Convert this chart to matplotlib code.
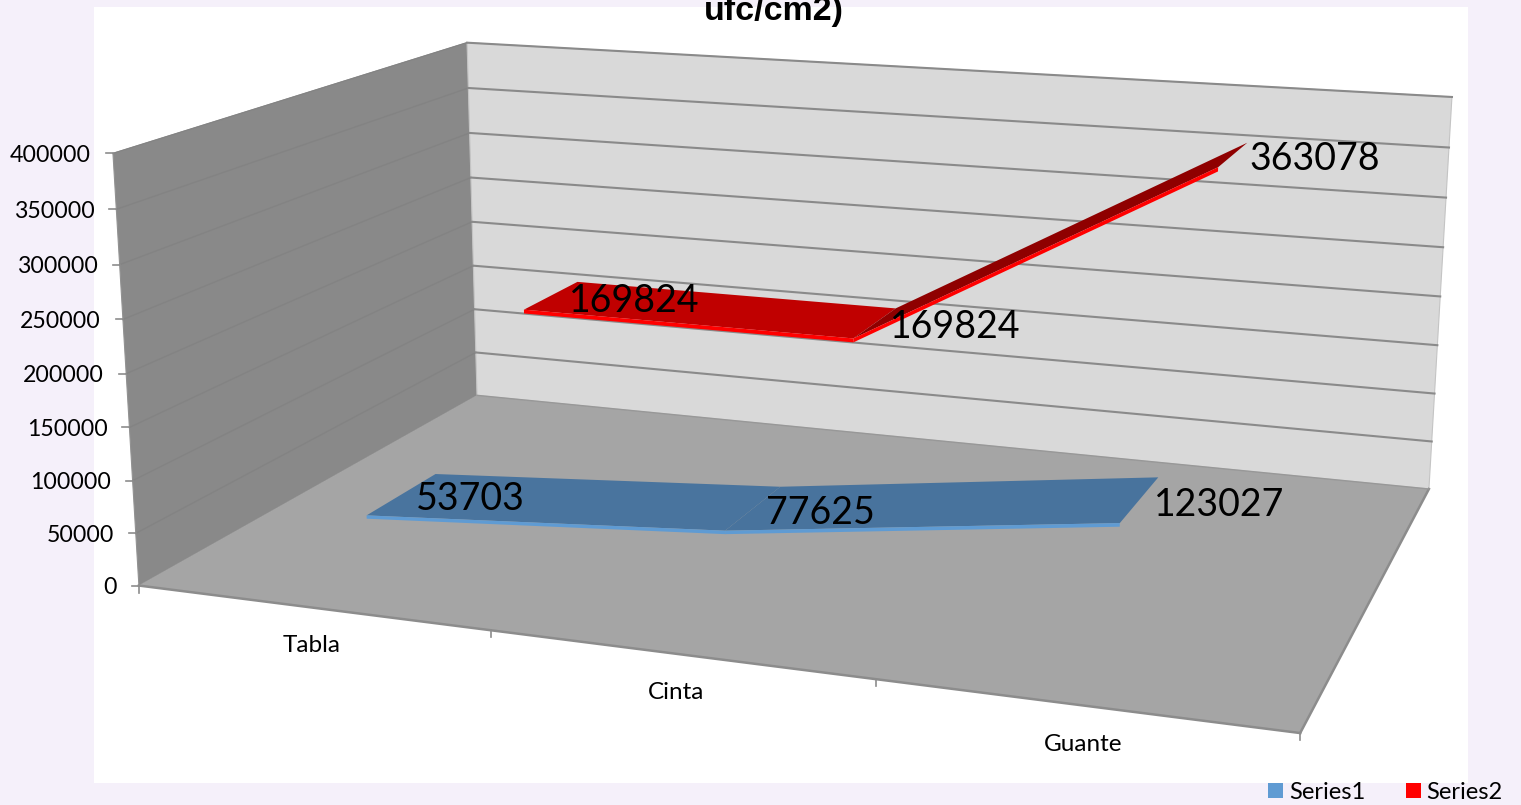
import numpy as np
import matplotlib
matplotlib.use("Agg")
from matplotlib import pyplot as plt
from matplotlib.patches import Patch, Polygon, Rectangle

categories = ["Tabla", "Cinta", "Guante"]
series1 = [53703, 77625, 123027]
series2 = [169824, 169824, 363078]
y_ticks = [0, 50000, 100000, 150000, 200000, 250000, 300000, 350000, 400000]
y_max = 400000

plt.rcParams["font.family"] = ["Lato", "DejaVu Sans"]

# box corners (category pos, depth, height) and where they land on the canvas
box_pts = np.array([
    [0, 0, 0], [0, 0, 1], [0, 1, 0], [0, 1, 1],
    [1, 1, 0], [1, 1, 1], [1, 0, 0],
], dtype=float)
canvas_pts = np.array([
    [139, 586], [113, 153], [477, 395], [467, 43],
    [1429, 489], [1452, 97], [1300, 733],
], dtype=float)


def fit_camera(box, canvas):
    rows = []
    for (x, y, z), (u, v) in zip(box, canvas / 1000):
        rows.append([x, y, z, 1, 0, 0, 0, 0, -u * x, -u * y, -u * z, -u])
        rows.append([0, 0, 0, 0, x, y, z, 1, -v * x, -v * y, -v * z, -v])
    return np.linalg.svd(np.array(rows))[2][-1].reshape(3, 4)


camera = fit_camera(box_pts, canvas_pts)


def project(x, depth, value):
    p = camera @ np.array([x, depth, value / y_max, 1.0])
    return p[:2] / p[2] * 1000


def draw_ribbon(ax, values, front, back, top_cols, side_col, thick):
    xs = [(i + 0.5) / len(values) for i in range(len(values))]
    for i in range(len(values) - 1):
        a, b = values[i], values[i + 1]
        top = [project(xs[i], front, a), project(xs[i + 1], front, b),
               project(xs[i + 1], back, b), project(xs[i], back, a)]
        ax.add_patch(Polygon(top, fc=top_cols[i], ec="none", zorder=4))
        face = [project(xs[i], front, a), project(xs[i + 1], front, b),
                project(xs[i + 1], front, b - thick), project(xs[i], front, a - thick)]
        ax.add_patch(Polygon(face, fc=side_col, ec="none", zorder=5))


fig = plt.figure(figsize=(15.21, 8.05), dpi=100, facecolor="#f5f0fa")
ax = fig.add_axes([0, 0, 1, 1])
ax.set_xlim(0, 1521)
ax.set_ylim(805, 0)
ax.axis("off")

ax.add_patch(Rectangle((94, 7), 1374, 776, fc="white", ec="none", zorder=0))

# walls and floor
edge = "#8c8c8c"
left_wall = [project(0, 0, 0), project(0, 0, y_max), project(0, 1, y_max), project(0, 1, 0)]
back_wall = [project(0, 1, 0), project(0, 1, y_max), project(1, 1, y_max), project(1, 1, 0)]
floor = [project(0, 0, 0), project(0, 1, 0), project(1, 1, 0), project(1, 0, 0)]
ax.add_patch(Polygon(left_wall, fc="#898989", ec="#929292", lw=0.8, zorder=1))
ax.add_patch(Polygon(back_wall, fc="#d9d9d9", ec="#c4c4c4", lw=0.8, zorder=1))
ax.add_patch(Polygon(floor, fc="#a5a5a5", ec="none", zorder=2))
for a, b in [(floor[0], floor[3]), (floor[3], floor[2])]:
    ax.plot([a[0], b[0]], [a[1], b[1]], color=edge, lw=1.8, zorder=3)
ax.plot([floor[1][0], floor[2][0]], [floor[1][1], floor[2][1]], color="#989898", lw=1, zorder=3)

# gridlines and value axis
for t in y_ticks:
    p0, p1, p2 = project(0, 0, t), project(0, 1, t), project(1, 1, t)
    if t > 0:
        ax.plot([p0[0], p1[0]], [p0[1], p1[1]], color="#838383", lw=1, zorder=3)
        ax.plot([p1[0], p2[0]], [p1[1], p2[1]], color="#8a8a8a", lw=1.5, zorder=3)
    ax.plot([p0[0] - 7, p0[0]], [p0[1], p0[1]], color=edge, lw=1.2, zorder=3)
    ax.text(p0[0] - 22, p0[1] + 2, str(t), ha="right", va="center", fontsize=16.7,
            color="black", zorder=6)

# category axis ticks and labels
n = len(categories)
for i in range(n + 1):
    p = project(i / n, 0, 0)
    ax.plot([p[0], p[0]], [p[1], p[1] + 7], color=edge, lw=1.2, zorder=3)
label_shift = [(1, 38), (-3, 38), (0, 39)]
for i, c in enumerate(categories):
    p = project((i + 0.5) / n, 0, 0)
    ax.text(p[0] + label_shift[i][0], p[1] + label_shift[i][1], c, ha="center", va="center",
            fontsize=17.5, color="black", zorder=6)

draw_ribbon(ax, series2, 0.65, 0.84, ["#c00000", "#8f0000"], "#ff0000", 4000)
draw_ribbon(ax, series1, 0.155, 0.355, ["#49749e", "#48739d"], "#5f9bd3", 3200)

# data labels
for vals, depth, shifts in [
    (series1, 0.25, [(70, 4), (68, 4), (81, 4)]),
    (series2, 0.69, [(99, -3), (93, -5), (90, -3)]),
]:
    for i, v in enumerate(vals):
        p = project((i + 0.5) / n, depth, v)
        ax.text(p[0] + shifts[i][0], p[1] + shifts[i][1], str(v), ha="center", va="center",
                fontsize=27, color="black", zorder=7)

ax.text(774, 20, "ufc/cm2)", ha="center", va="baseline", fontsize=24.5, fontweight="bold",
        family="Liberation Sans", color="black", zorder=7)

handles = [Patch(fc="#5f9bd3", label="Series1"), Patch(fc="#ff0000", label="Series2")]
ax.legend(handles=handles, ncol=2, loc="lower right", bbox_to_anchor=(1505 / 1521, 0), frameon=False,
          bbox_transform=ax.transAxes, fontsize=17, handlelength=0.64, handleheight=0.6,
          handletextpad=0.25, columnspacing=1.7, borderpad=0, borderaxespad=0.1)

fig.savefig("out.png", dpi=100, facecolor=fig.get_facecolor())
